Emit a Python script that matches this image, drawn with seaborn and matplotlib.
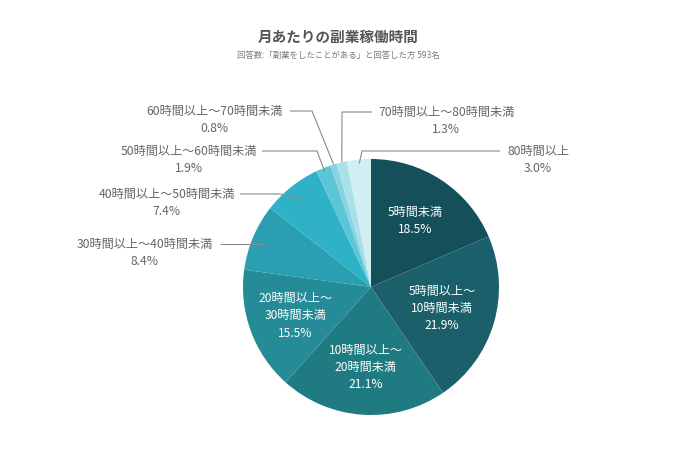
import numpy as np
import matplotlib
matplotlib.use("Agg")
import matplotlib.pyplot as plt
import seaborn as sns

categories = ["5時間未満", "5時間以上～\n10時間未満", "10時間以上～\n20時間未満", "20時間以上～\n30時間未満",
              "30時間以上～40時間未満", "40時間以上～50時間未満", "50時間以上～60時間未満",
              "60時間以上～70時間未満", "70時間以上～80時間未満", "80時間以上"]
values = [18.5, 21.9, 21.1, 15.5, 8.4, 7.4, 1.9, 0.8, 1.3, 3.0]
colors = ["#144F5A", "#1A5F6A", "#1F7B81", "#258B97", "#2A9FB2", "#2FB2C8",
          "#5CC6D7", "#86D4E1", "#A9E1E9", "#D1EEF2"]
title = "月あたりの副業稼働時間"
subtitle = "回答数:「副業をしたことがある」と回答した方 593名"

sns.set_theme(style="white")
plt.rcParams['font.family'] = ['Noto Sans CJK JP', 'DejaVu Sans']

W, H = 676, 464
fig = plt.figure(figsize=(W / 100, H / 100), dpi=100)
ax = fig.add_axes([0, 0, 1, 1])

def py(y):
    return H - y

cx, cy, R = 371, 288, 128
wedges, _ = ax.pie(values, colors=sns.color_palette(colors), startangle=90, counterclock=False,
                   center=(cx, py(cy)), radius=R, wedgeprops=dict(linewidth=0))
ax.set_xlim(0, W)
ax.set_ylim(0, H)
ax.set_aspect('equal')
ax.axis('off')

fig.text(0.5, 1 - 37 / H, title, ha='center', va='center', fontsize=10.5, fontweight='bold', color='#555555')
fig.text(0.5, 1 - 55 / H, subtitle, ha='center', va='center', fontsize=6.05, color='#7a7a7a')

def mid_dir(w):
    a = np.deg2rad((w.theta1 + w.theta2) / 2)
    return np.cos(a), np.sin(a)

# inside labels
inner_r = [0.63, 0.58, 0.62, 0.63]
for i in range(4):
    dx, dy = mid_dir(wedges[i])
    ax.text(cx + dx * R * inner_r[i], py(cy) + dy * R * inner_r[i],
            f"{categories[i]}\n{values[i]:.1f}%", ha='center', va='center', ma='center',
            color='white', fontsize=8.7, linespacing=1.42)

# outside labels: (index, text x, line y, ha, elbow x, line end x, start radius fraction)
outer = [
    (4, 213, 245, 'right', None, 220, 0.9),
    (5, 235, 195, 'right', 280, 240, 0.88),
    (6, 257, 152, 'right', 317, 262, 0.97),
    (7, 283, 112, 'right', 312, 290, 1.0),
    (8, 378, 113, 'left', 342, 372, 1.0),
    (9, 507, 152, 'left', 362, 500, 0.97),
]
for i, tx, ly, ha, ex, lx, sr in outer:
    dx, dy = mid_dir(wedges[i])
    sx, sy = cx + dx * R * sr, py(cy) + dy * R * sr
    if ex is None:
        xs = [sx, lx]
        ys = [py(ly), py(ly)]
    else:
        xs = [sx, ex, lx]
        ys = [sy, py(ly), py(ly)]
    ax.plot(xs, ys, color='#8a8a8a', lw=0.8, solid_capstyle='butt')
    ax.text(tx, py(ly) + 7.5, f"{categories[i]}\n{values[i]:.1f}%", ha=ha, va='top', ma='center',
            color='#666666', fontsize=8.75, linespacing=1.42)

fig.savefig("out.png", dpi=100)
